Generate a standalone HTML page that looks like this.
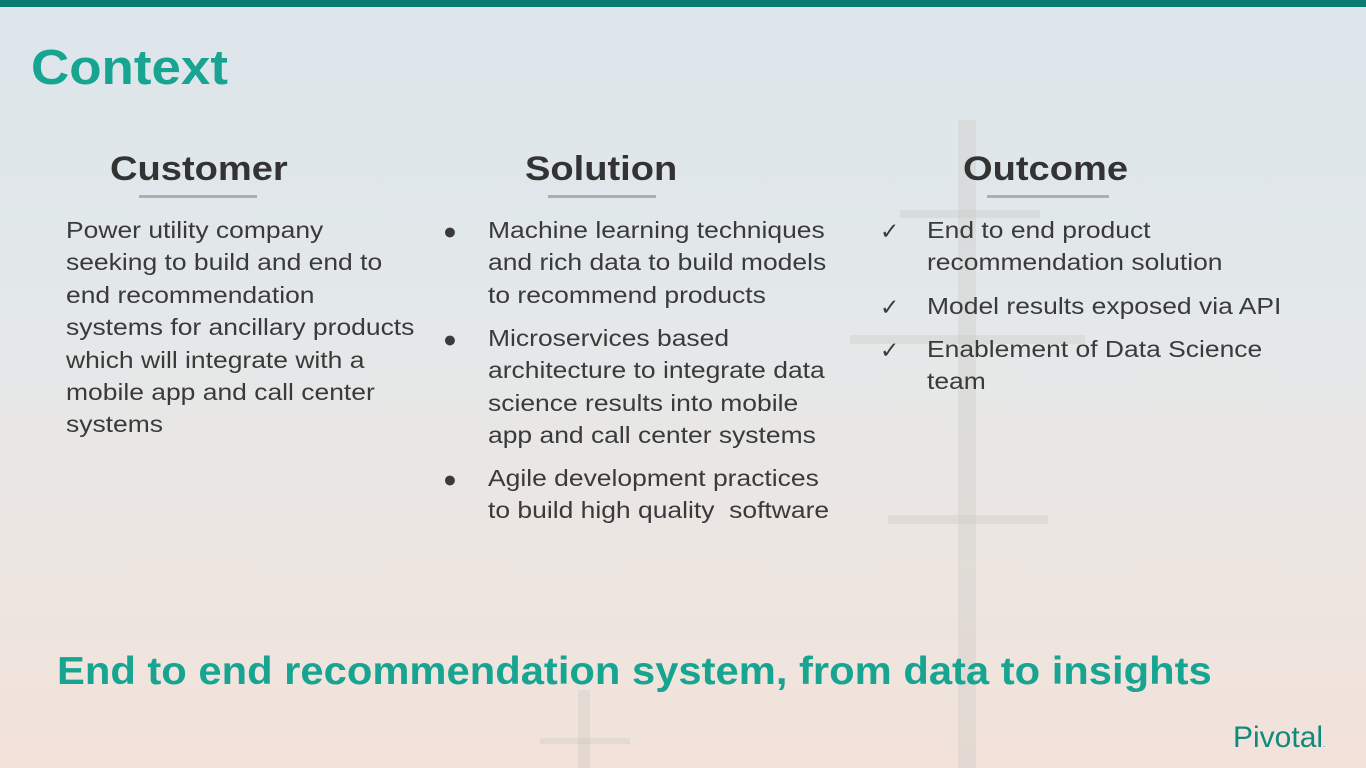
<!DOCTYPE html>
<html><head><meta charset="utf-8"><style>
html,body{margin:0;padding:0}
body{width:1366px;height:768px;position:relative;overflow:hidden;font-family:"Liberation Sans",sans-serif;
background:linear-gradient(180deg,#dde6eb 0%,#e3e8ea 40%,#ece6e2 70%,#f2e2da 100%);}
.bar{position:absolute;left:0;top:0;width:1366px;height:7px;background:#0b7b72}
h1{position:absolute;left:31px;top:40px;margin:0;font-size:49px;font-weight:bold;color:#17a591;transform:scaleX(1.08);transform-origin:left}
.h{position:absolute;font-size:34px;font-weight:bold;color:#333;top:150px;transform:scaleX(1.12);transform-origin:left}
.u{position:absolute;height:3px;background:#a9b0b4;top:195px}
.p{position:absolute;font-size:23px;color:#3a3a3a;line-height:32.4px;white-space:nowrap;transform:scaleX(1.15);transform-origin:left}
.bul{position:absolute;font-size:23px;color:#3a3a3a}
.foot{position:absolute;left:57px;top:650px;font-size:39px;font-weight:bold;color:#17a591;white-space:nowrap;transform:scaleX(1.07);transform-origin:left}
.piv{position:absolute;left:1233px;top:721px;font-size:30px;color:#0f8a7c}
.pole{position:absolute;background:rgba(200,200,195,0.35)}
</style></head><body>
<div class="pole" style="left:958px;top:120px;width:18px;height:648px"></div>
<div class="pole" style="left:900px;top:210px;width:140px;height:8px"></div>
<div class="pole" style="left:850px;top:335px;width:235px;height:9px"></div>
<div class="pole" style="left:888px;top:515px;width:160px;height:9px"></div>
<div class="pole" style="left:578px;top:690px;width:12px;height:78px"></div>
<div class="pole" style="left:540px;top:738px;width:90px;height:6px"></div>
<div class="bar"></div>
<h1>Context</h1>
<div class="h" style="left:110px">Customer</div>
<div class="u" style="left:139px;width:118px"></div>
<div class="h" style="left:525px">Solution</div>
<div class="u" style="left:548px;width:108px"></div>
<div class="h" style="left:963px">Outcome</div>
<div class="u" style="left:987px;width:122px"></div>
<div class="p" style="left:66px;top:214px">Power utility company<br>seeking to build and end to<br>end recommendation<br>systems for ancillary products<br>which will integrate with a<br>mobile app and call center<br>systems</div>
<div class="bul" style="left:443px;top:218px">●</div>
<div class="p" style="left:488px;top:214px">Machine learning techniques<br>and rich data to build models<br>to recommend products</div>
<div class="bul" style="left:443px;top:326px">●</div>
<div class="p" style="left:488px;top:322px">Microservices based<br>architecture to integrate data<br>science results into mobile<br>app and call center systems</div>
<div class="bul" style="left:443px;top:466px">●</div>
<div class="p" style="left:488px;top:462px">Agile development practices<br>to build high quality&nbsp; software</div>
<div class="bul" style="left:880px;top:218px">✓</div>
<div class="p" style="left:927px;top:214px">End to end product<br>recommendation solution</div>
<div class="bul" style="left:880px;top:294px">✓</div>
<div class="p" style="left:927px;top:290px">Model results exposed via API</div>
<div class="bul" style="left:880px;top:337px">✓</div>
<div class="p" style="left:927px;top:333px">Enablement of Data Science<br>team</div>
<div class="foot">End to end recommendation system, from data to insights</div>
<div class="piv">Pivotal<span style="font-size:8px">.</span></div>
</body></html>
